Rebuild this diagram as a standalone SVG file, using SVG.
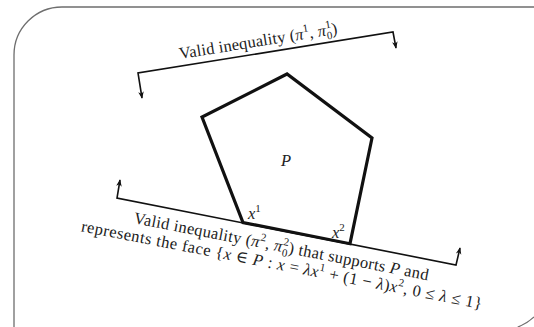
<svg xmlns="http://www.w3.org/2000/svg" width="534" height="327" viewBox="0 0 534 327" style="overflow:hidden">
<style>
.frame{fill:none;stroke:#6e6e6e;stroke-width:1.3}
.ln{fill:none;stroke:#111;stroke-width:1.6;stroke-linejoin:miter}
.poly{fill:none;stroke:#111;stroke-width:3.2;stroke-linejoin:miter}
text{font-family:"Liberation Serif","DejaVu Serif",serif;font-size:16.5px;fill:#222}
.it{font-style:italic}
.sm{font-size:11px}
</style>
<defs>
<marker id="ah" viewBox="0 0 10 10" refX="9" refY="5" markerWidth="7" markerHeight="7" markerUnits="userSpaceOnUse" orient="auto-start-reverse">
<path d="M0,1 L10,5 L0,9 L3,5 Z" fill="#111"/>
</marker>
</defs>
<path class="frame" d="M14,327 L14,55 A48,48 0 0 1 62,7 L534,7"/>
<path class="frame" d="M534,316.9 A48,48 0 0 1 517.7,327"/>
<g id="connectors">
<path class="ln" d="M142,98 L138,73 L393,32 L396,48" marker-start="url(#ah)" marker-end="url(#ah)"/>
<path class="ln" d="M120,180 L117,198 L456,265 L460,248" marker-start="url(#ah)" marker-end="url(#ah)"/>
</g>
<g id="polytope">
<polygon class="poly" points="287,74 202,117 243,222.5 350,243.7 372,138"/>
<text class="it" x="281" y="166">P</text>
</g>
<g id="x1"><text x="248" y="219"><tspan class="it">x</tspan><tspan class="sm" dy="-7">1</tspan></text></g>
<g id="x2"><text x="332" y="238"><tspan class="it">x</tspan><tspan class="sm" dy="-7">2</tspan></text></g>
<g id="label-top">
<text transform="translate(180,59) rotate(-9.1)" x="0" y="0" textLength="160" lengthAdjust="spacing">Valid inequality (<tspan class="it">π</tspan><tspan class="sm" dy="-7">1</tspan><tspan dy="7">, </tspan><tspan class="it">π</tspan><tspan class="sm" dy="-7">1</tspan><tspan class="sm" dx="-5.5" dy="11">0</tspan><tspan dy="-4">)</tspan></text>
</g>
<g id="label-bottom" transform="translate(133,223) rotate(11)">
<text x="0" y="0" textLength="300" lengthAdjust="spacing">Valid inequality (<tspan class="it">π</tspan><tspan class="sm" dy="-7">2</tspan><tspan dy="7">, </tspan><tspan class="it">π</tspan><tspan class="sm" dy="-7">2</tspan><tspan class="sm" dx="-5.5" dy="11">0</tspan><tspan dy="-4">) that supports </tspan><tspan class="it">P</tspan> and</text>
<text x="-50" y="18" textLength="408" lengthAdjust="spacing">represents the face {<tspan class="it">x</tspan> ∈ <tspan class="it">P</tspan> : <tspan class="it">x</tspan> = <tspan class="it">λx</tspan><tspan class="sm" dy="-7">1</tspan><tspan dy="7"> + (1 − </tspan><tspan class="it">λ</tspan>)<tspan class="it">x</tspan><tspan class="sm" dy="-7">2</tspan><tspan dy="7">, 0 ≤ </tspan><tspan class="it">λ</tspan> ≤ 1}</text>
</g>
</svg>
